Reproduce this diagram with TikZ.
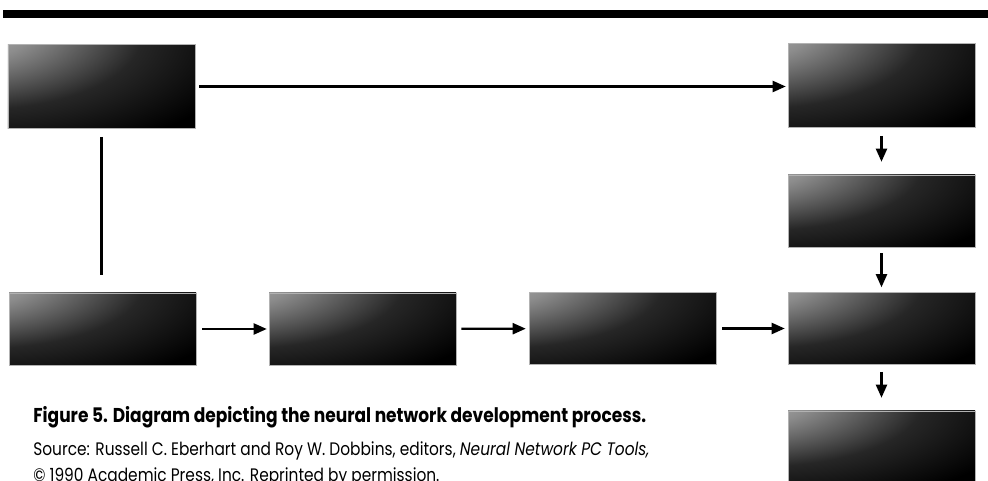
\documentclass[tikz,border=0pt]{standalone}
\usepackage{fontspec}
\newfontfamily\capfont[FakeStretch=0.85]{Poppins}
\usepackage{tikz}
\usetikzlibrary{arrows.meta, positioning, calc}
\usepackage{xcolor}

% light corner at the upper left, black elsewhere
\pgfdeclareradialshading{cornerglow}{\pgfpoint{-46bp}{42bp}}{%
  color(0bp)=(black!18); color(22bp)=(black!45); color(44bp)=(black!85);
  color(66bp)=(black); color(160bp)=(black)}

\begin{document}
\begin{tikzpicture}[
    stagebox/.style={shade, shading=cornerglow, draw=gray!60, line width=0.3pt,
      minimum width=3.74cm, minimum height=1.44cm, inner sep=0pt},
    tallbox/.style={stagebox, minimum height=1.68cm},
    flow/.style={-{Triangle[length=2.6mm,width=2.2mm]}, line width=1.2pt},
    caption/.style={anchor=base west, inner sep=0pt, font=\capfont}]
  \useasboundingbox (0,0) rectangle (19.76,9.62);
  \fill (0.06,9.26) rectangle (19.76,9.42);

  % top row
  \node[tallbox] (tl) at (2.03,7.89) {};
  \node[tallbox] (tr) at (17.63,7.91) {};
  % right column
  \node[stagebox] (r2) at (17.63,5.40) {};
  \node[stagebox] (r3) at (17.63,3.05) {};
  \node[stagebox] (r4) at (17.63,0.68) {};
  % bottom row
  \node[stagebox] (bl) at (2.05,3.04) {};
  \node[stagebox] (b2) at (7.25,3.04) {};
  \node[stagebox] (b3) at (12.45,3.05) {};

  \draw[flow, shorten <=0.08cm, shorten >=0.04cm] (tl) -- (tl -| tr.west);
  \draw[line width=1.2pt, shorten <=0.16cm, shorten >=0.36cm] (tl.south) -- (tl.south |- bl.north);
  \draw[flow, shorten <=0.16cm, shorten >=0.26cm] (tr) -- (r2);
  \draw[flow, shorten <=0.12cm, shorten >=0.10cm] (r2) -- (r3);
  \draw[flow, shorten <=0.14cm, shorten >=0.26cm] (r3) -- (r4);
  \draw[flow, shorten <=0.12cm, shorten >=0.04cm] (bl) -- (b2);
  \draw[flow, shorten <=0.10cm, shorten >=0.06cm] (b2) -- (b3);
  \draw[flow, shorten <=0.12cm, shorten >=0.06cm] (b3) -- (r3);

  % caption
  \node[caption, font=\capfont\bfseries\fontsize{11.4}{13}\selectfont] (fig) at (0.66,1.16)
    {Figure 5. Diagram depicting the neural network development process.};
  \node[caption, font=\capfont\fontsize{10.3}{12}\selectfont] (src) at (0.66,0.50)
    {Source: Russell C. Eberhart and Roy W. Dobbins, editors, \textit{Neural Network PC Tools,}};
  \node[caption, font=\capfont\fontsize{10.3}{12}\selectfont] (cpy) at (0.66,-0.02)
    {\copyright{} 1990 Academic Press, Inc. Reprinted by permission.};
\end{tikzpicture}
\end{document}
